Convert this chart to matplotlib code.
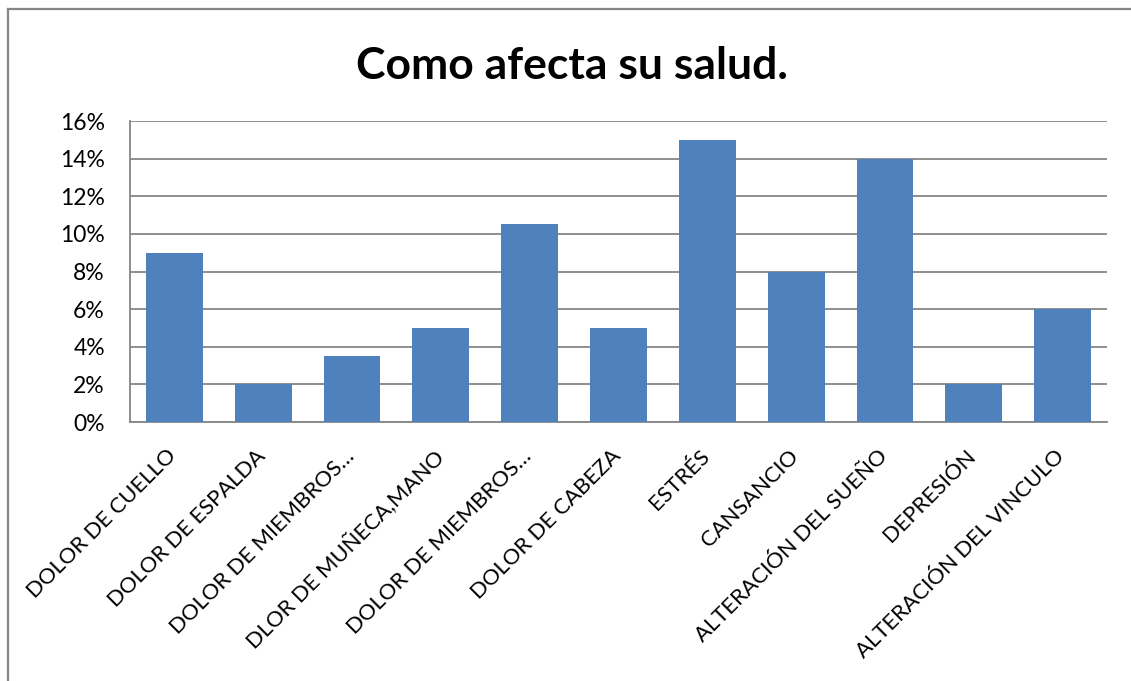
import matplotlib
matplotlib.use("Agg")
import matplotlib.pyplot as plt
from matplotlib.ticker import FuncFormatter, MultipleLocator
from matplotlib.lines import Line2D

categories = ["DOLOR DE CUELLO", "DOLOR DE ESPALDA", "DOLOR DE MIEMBROS…",
              "DLOR DE MUÑECA,MANO", "DOLOR DE MIEMBROS…", "DOLOR DE CABEZA",
              "ESTRÉS", "CANSANCIO", "ALTERACIÓN DEL SUEÑO", "DEPRESIÓN",
              "ALTERACIÓN DEL VINCULO"]
values = [0.09, 0.02, 0.035, 0.05, 0.105, 0.05, 0.15, 0.08, 0.14, 0.02, 0.06]
title = "Como afecta su salud."

plt.rcParams['font.family'] = ['Lato', 'DejaVu Sans']

fig = plt.figure(figsize=(11.31, 6.81), dpi=100)
W, H = 1131, 681
ax = fig.add_axes([130 / W, 1 - 422 / H, (1107 - 130) / W, (422 - 121) / H])

x = list(range(len(categories)))
ax.bar(x, values, width=0.64, color='#4F81BD', zorder=3)
ax.set_xlim(-0.5, len(categories) - 0.5)
ax.set_ylim(0, 0.16)
ax.yaxis.set_major_locator(MultipleLocator(0.02))
ax.yaxis.set_major_formatter(FuncFormatter(lambda v, p: f"{round(v*100)}%"))
ax.grid(axis='y', color='#868686', linewidth=1.3, zorder=0)
for s in ['top', 'right']:
    ax.spines[s].set_visible(False)
ax.spines['left'].set_color('#868686')
ax.spines['bottom'].set_color('#868686')
ax.spines['left'].set_linewidth(1.3)
ax.spines['bottom'].set_linewidth(1.3)
ax.tick_params(axis='y', length=0, labelsize=16.5, pad=25 * 72 / 100)
ax.tick_params(axis='x', length=0)
ax.set_xticks(x)
ax.set_xticklabels(categories, rotation=45, ha='right', va='top',
                   rotation_mode='anchor', fontsize=15.8)
for lbl in ax.get_xticklabels():
    lbl.set_transform(lbl.get_transform() + matplotlib.transforms.ScaledTranslation(-0.08, -0.19, fig.dpi_scale_trans))

fig.text(572 / W, 1 - 66 / H, title, ha='center', va='center', fontsize=32, fontweight='bold')

fig.add_artist(Line2D([7.5 / W, 7.5 / W], [0, 1 - 8.5 / H], transform=fig.transFigure,
                      color='#868686', linewidth=1.6))
fig.add_artist(Line2D([7.5 / W, 1], [1 - 8.5 / H, 1 - 8.5 / H], transform=fig.transFigure,
                      color='#868686', linewidth=1.6))

fig.savefig("out.png", dpi=100)
